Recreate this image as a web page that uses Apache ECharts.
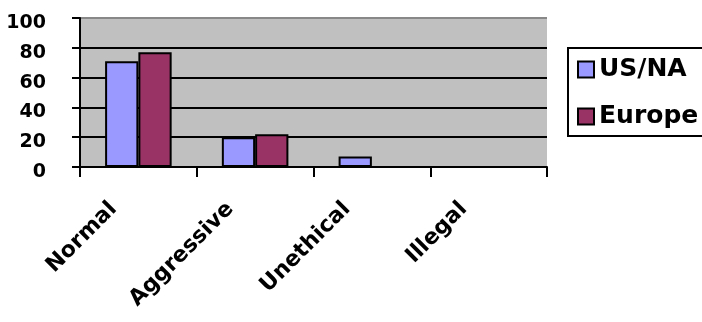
<!DOCTYPE html>
<html>
<head>
<meta charset="utf-8">
<script src="https://cdn.jsdelivr.net/npm/echarts@6/dist/echarts.min.js"></script>
<style>
html,body{margin:0;padding:0;background:#fff;}
#chart{width:702px;height:322px;}
</style>
</head>
<body>
<div id="chart"></div>
<script>
const categories = ['Normal', 'Aggressive', 'Unethical', 'Illegal'];
const usNaValues = [71, 20, 7, 0];
const europeValues = [77, 22, 0, 0];
const seriesNames = ['US/NA', 'Europe'];

const FONT = '"DejaVu Sans", Arial, sans-serif';
const chart = echarts.init(document.getElementById('chart'), null, {renderer: 'canvas'});
chart.setOption({
  animation: false,
  backgroundColor: '#ffffff',
  grid: {
    left: 80, right: 155, top: 18, bottom: 155,
    outerBoundsMode: 'none',
    show: false
  },
  legend: {
    data: seriesNames,
    orient: 'vertical',
    left: 568, top: 48,
    padding: [9, 20, 7, 9],
    itemGap: 22,
    itemWidth: 16, itemHeight: 16,
    icon: 'rect',
    borderColor: '#000', borderWidth: 2,
    backgroundColor: '#fff',
    textStyle: {fontFamily: FONT, fontWeight: 'bold', fontSize: 25, color: '#000'}
  },
  xAxis: {
    type: 'category',
    data: categories,
    z: 0,
    boundaryGap: true,
    axisLine: {lineStyle: {color: '#000', width: 2}},
    axisTick: {show: true, length: 10, inside: false, lineStyle: {color: '#000', width: 2}},
    axisLabel: {
      rotate: 45, interval: 0, margin: 14,
      padding: [0, 35, 0, 0],
      fontFamily: FONT, fontWeight: 'bold', fontSize: 22, color: '#000'
    },
    splitArea: {show: true, interval: 0, areaStyle: {color: ['#C0C0C0']}},
    splitLine: {show: false}
  },
  yAxis: {
    type: 'value',
    z: 1,
    min: 0, max: 100, interval: 20,
    axisLine: {show: true, lineStyle: {color: '#000', width: 2}},
    axisTick: {show: true, length: 8, lineStyle: {color: '#000', width: 2}},
    axisLabel: {
      margin: 34, verticalAlign: 'top', lineHeight: 10,
      fontFamily: FONT, fontWeight: 'bold', fontSize: 19, color: '#000'
    },
    splitLine: {show: true, lineStyle: {color: ['#000', '#000', '#000', '#000', '#000', '#888'], width: 2}}
  },
  series: [
    {
      name: seriesNames[0], type: 'bar', data: usNaValues, z: 3,
      barGap: '0%', barCategoryGap: '43%',
      itemStyle: {color: '#9999FF', borderColor: '#000', borderWidth: 2}
    },
    {
      name: seriesNames[1], type: 'bar', data: europeValues, z: 3,
      barGap: '0%', barCategoryGap: '43%',
      itemStyle: {color: '#993366', borderColor: '#000', borderWidth: 2}
    }
  ]
});
</script>
</body>
</html>
